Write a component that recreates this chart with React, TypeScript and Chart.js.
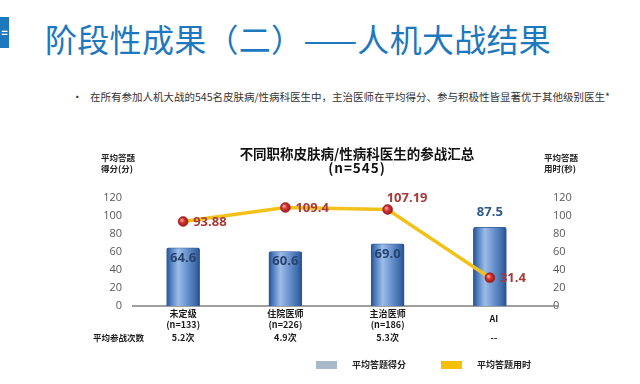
import React, { useEffect, useRef } from 'react';
import { Chart, registerables } from 'chart.js';

Chart.register(...registerables);

// ---- data ----
const categories = ['未定级', '住院医师', '主治医师', 'AI'];
const sampleSizes = ['(n=133)', '(n=226)', '(n=186)', ''];
const avgScores = [64.6, 60.6, 69.0, 87.5];
const avgTimes = [93.88, 109.4, 107.19, 31.4];
const avgAttempts = ['5.2次', '4.9次', '5.3次', '--'];
const axisMin = 0;
const axisMax = 120;
const axisStep = 20;

// ---- label placement (style) ----
const barLabelPlacement = ['inside', 'inside', 'inside', 'above'];
const lineLabelPlacement = ['right', 'right', 'top', 'right'];

const CJK = '"Noto Sans CJK SC", "Noto Sans", sans-serif';
const NUM = '"Open Sans", "Noto Sans", sans-serif';

const BAR_W = 33;

const axisLinePlugin = {
  id: 'axisLine',
  beforeDatasetsDraw(chart: any) {
    const { ctx, chartArea } = chart;
    const y0 = chart.scales.y.getPixelForValue(0);
    ctx.save();
    ctx.strokeStyle = '#7f7f7f';
    ctx.lineWidth = 1.5;
    ctx.beginPath();
    ctx.moveTo(chartArea.left, y0);
    ctx.lineTo(chartArea.right + 17, y0);
    ctx.stroke();
    ctx.restore();
  },
};

const valueLabelPlugin = {
  id: 'valueLabels',
  afterDatasetsDraw(chart: any) {
    const { ctx } = chart;
    ctx.save();
    ctx.font = `bold 13px ${NUM}`;
    ctx.textBaseline = 'middle';
    const barMeta = chart.getDatasetMeta(0);
    barMeta.data.forEach((bar: any, i: number) => {
      const above = barLabelPlacement[i] === 'above';
      ctx.textAlign = 'center';
      ctx.fillStyle = above ? '#2f5a8e' : '#27436d';
      ctx.fillText(avgScores[i].toFixed(1), bar.x, above ? bar.y - 15 : bar.y + 10);
    });
    const lineMeta = chart.getDatasetMeta(1);
    ctx.fillStyle = '#a8393a';
    lineMeta.data.forEach((pt: any, i: number) => {
      ctx.textAlign = 'left';
      const txt = String(avgTimes[i]);
      if (lineLabelPlacement[i] === 'top') ctx.fillText(txt, pt.x - 1, pt.y - 11);
      else ctx.fillText(txt, pt.x + 10, pt.y + 1);
    });
    ctx.restore();
  },
};

const xLabelPlugin = {
  id: 'xLabels',
  afterDraw(chart: any) {
    const { ctx } = chart;
    const xs = chart.scales.x;
    ctx.save();
    ctx.fillStyle = '#1a1a1a';
    ctx.textBaseline = 'middle';
    ctx.textAlign = 'center';
    categories.forEach((c, i) => {
      const x = xs.getPixelForValue(i);
      ctx.font = `bold 9px ${CJK}`;
      if (sampleSizes[i]) {
        ctx.fillText(c, x, 314);
        ctx.fillText(sampleSizes[i], x, 325);
      } else {
        ctx.fillText(c, x + 4, 319);
      }
      ctx.font = `bold 9px ${CJK}`;
      ctx.fillText(avgAttempts[i], x + (sampleSizes[i] ? 0 : 4), 338);
    });
    ctx.textAlign = 'left';
    ctx.font = `bold 8.5px ${CJK}`;
    ctx.fillText('平均参战次数', 93, 338);
    ctx.restore();
  },
};

function barGradient(c: any) {
  const chart = c.chart;
  if (!chart.chartArea) return '#4f7dbd';
  const x = chart.scales.x.getPixelForValue(c.dataIndex);
  const g = chart.ctx.createLinearGradient(x - BAR_W / 2, 0, x + BAR_W / 2, 0);
  g.addColorStop(0, '#27508d');
  g.addColorStop(0.12, '#4c7bbd');
  g.addColorStop(0.35, '#9dbde7');
  g.addColorStop(0.6, '#6d95cf');
  g.addColorStop(0.88, '#3d6aab');
  g.addColorStop(1, '#284e88');
  return g;
}

function pointGradient(c: any) {
  const chart = c.chart;
  if (!chart.chartArea || c.dataIndex === undefined) return '#c9302c';
  const x = chart.scales.x.getPixelForValue(c.dataIndex);
  const y = chart.scales.y1.getPixelForValue(avgTimes[c.dataIndex]);
  const g = chart.ctx.createRadialGradient(x - 1.5, y - 1.5, 0.5, x, y, 5.5);
  g.addColorStop(0, '#f7a0a0');
  g.addColorStop(0.4, '#d2332e');
  g.addColorStop(1, '#8c1717');
  return g;
}

function ChartCanvas() {
  const ref = useRef<HTMLCanvasElement | null>(null);
  useEffect(() => {
    if (!ref.current) return;
    const chart = new Chart(ref.current, {
      type: 'bar',
      data: {
        labels: categories,
        datasets: [
          {
            type: 'bar',
            label: '平均答题得分',
            data: avgScores,
            yAxisID: 'y',
            backgroundColor: barGradient as any,
            borderColor: '#2f5a96',
            borderWidth: 0.8,
            borderRadius: 2,
            barThickness: BAR_W,
            order: 2,
          },
          {
            type: 'line',
            label: '平均答题用时',
            data: avgTimes,
            yAxisID: 'y1',
            borderColor: '#f2c21b',
            borderWidth: 3.5,
            tension: 0,
            pointRadius: 5,
            pointBackgroundColor: pointGradient as any,
            pointBorderColor: '#9e1f1f',
            pointBorderWidth: 0.5,
            order: 1,
          } as any,
        ],
      },
      options: {
        animation: false,
        responsive: false,
        layout: { padding: { top: 198, left: 0, right: 0, bottom: 0 } },
        plugins: { legend: { display: false }, tooltip: { enabled: false }, title: { display: false } },
        scales: {
          x: {
            grid: { display: false },
            border: { display: false },
            ticks: { display: false },
            afterFit: (s: any) => { s.height = 78; },
          },
          y: {
            position: 'left',
            min: axisMin,
            max: axisMax,
            ticks: { stepSize: axisStep, padding: 10, color: '#595959', font: { size: 11, family: NUM } },
            grid: { display: false, drawTicks: false },
            border: { display: false },
            afterFit: (s: any) => { s.width = 132; },
          },
          y1: {
            position: 'right',
            min: axisMin,
            max: axisMax,
            ticks: { stepSize: axisStep, padding: 12, color: '#595959', font: { size: 11, family: NUM } },
            grid: { display: false, drawTicks: false },
            border: { display: false },
            afterFit: (s: any) => { s.width = 99; },
          },
        },
      },
      plugins: [axisLinePlugin, valueLabelPlugin, xLabelPlugin],
    });
    return () => chart.destroy();
  }, []);
  return <canvas ref={ref} width={640} height={384} style={{ position: 'absolute', left: 0, top: 0, width: 640, height: 384 }} />;
}

const abs = (o: React.CSSProperties): React.CSSProperties => ({ position: 'absolute', ...o });

export default function App() {
  useEffect(() => {
    document.body.style.margin = '0';
  }, []);
  return (
    <div style={{ position: 'fixed', left: 0, top: 0, width: 640, height: 384, background: '#fff', fontFamily: CJK, overflow: 'hidden' }}>
      <div style={abs({ left: 0, top: 17, width: 9, height: 31, background: '#1e78be', color: '#fff', fontSize: 11, fontWeight: 700, lineHeight: '31px', textAlign: 'center' })}>=</div>
      <div style={abs({ left: 45, top: 20, fontSize: 32, lineHeight: '36px', color: '#1e78be', whiteSpace: 'nowrap', fontWeight: 400, letterSpacing: '0.3px' })}>阶段性成果（二）——人机大战结果</div>
      <div style={abs({ left: 72, top: 90, fontSize: 10.5, lineHeight: '14px', color: '#333' })}>•</div>
      <div style={abs({ left: 90, top: 90, fontSize: 10.5, lineHeight: '14px', color: '#333', whiteSpace: 'nowrap' })}>在所有参加人机大战的545名皮肤病/性病科医生中，主治医师在平均得分、参与积极性皆显著优于其他级别医生*</div>
      <ChartCanvas />
      <div style={abs({ left: 157, top: 146, width: 400, textAlign: 'center', fontSize: 13.5, lineHeight: '14px', fontWeight: 700, color: '#111' })}>
        <div>不同职称皮肤病/性病科医生的参战汇总</div>
        <div style={{ letterSpacing: '1px' }}>(n=545)</div>
      </div>
      <div style={abs({ left: 101, top: 152, fontSize: 8.5, lineHeight: '11px', fontWeight: 700, color: '#222' })}>
        <div>平均答题</div>
        <div>得分(分)</div>
      </div>
      <div style={abs({ left: 544, top: 152, fontSize: 8.5, lineHeight: '11px', fontWeight: 700, color: '#222' })}>
        <div>平均答题</div>
        <div>用时(秒)</div>
      </div>
      <div style={abs({ left: 316, top: 361, width: 21, height: 8, background: '#a9b9cc' })} />
      <div style={abs({ left: 352, top: 359, fontSize: 9, lineHeight: '12px', fontWeight: 700, color: '#222', whiteSpace: 'nowrap' })}>平均答题得分</div>
      <div style={abs({ left: 441, top: 361, width: 21, height: 8, background: '#f5c000' })} />
      <div style={abs({ left: 477, top: 359, fontSize: 9, lineHeight: '12px', fontWeight: 700, color: '#222', whiteSpace: 'nowrap' })}>平均答题用时</div>
    </div>
  );
}
